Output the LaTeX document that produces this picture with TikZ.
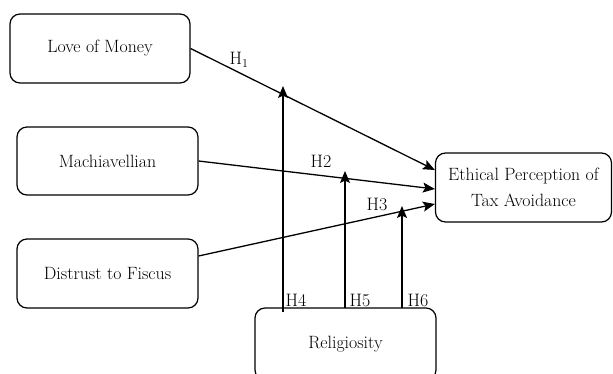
\documentclass[tikz,border=0pt]{standalone}
\usetikzlibrary{arrows.meta,calc}
\begin{document}
\begin{tikzpicture}[x=1pt,y=-1pt,
  box/.style={draw,line width=1.2pt,rounded corners=10pt,inner sep=0pt,align=center,
    font=\fontsize{17.8}{26}\selectfont},
  lbl/.style={font=\fontsize{18}{20}\selectfont,inner sep=0pt},
  arr/.style={line width=1.3pt,-{Stealth[length=12pt,width=10pt,inset=2.5pt]}}]
\useasboundingbox (0,0) rectangle (613,374);
\clip (0,0) rectangle (613,374);
\node[box,minimum width=180pt,minimum height=69pt] (lom) at (100,48.5) {Love of Money};
\node[box,minimum width=181pt,minimum height=68pt] (mac) at (107.5,161) {Machiavellian};
\node[box,minimum width=181pt,minimum height=69pt] (dis) at (107.5,273.5) {Distrust to Fiscus};
\node[box,minimum width=176pt,minimum height=69pt] (eth) at (523.5,187.5) {Ethical Perception of\\Tax Avoidance};
\node[box,minimum width=181pt,minimum height=72pt] (rel) at (345.5,344) {Religiosity};
% main paths
\draw[arr] (lom.east) -- ($(eth.west)+(0,-17.5)$);
\draw[arr] (mac.east) -- ($(eth.west)+(0,1.5)$);
\draw[arr] ($(dis.east)+(0,-17.5)$) -- ($(eth.west)+(0,16.5)$);
% moderation
\coordinate (s4) at (283,312);
\coordinate (t4) at (283,86);
\coordinate (s5) at (345,308);
\coordinate (t5) at (345,171);
\coordinate (s6) at (402,308);
\coordinate (t6) at (402,206);
\draw[arr] (s4) -- (t4);
\draw[arr] (s5) -- (t5);
\draw[arr] (s6) -- (t6);
% labels
\node[lbl] (h1) at (239,60) {H$_1$};
\node[lbl] (h2) at (321,161) {H2};
\node[lbl] (h3) at (377,204) {H3};
\node[lbl] (h4) at (296,300) {H4};
\node[lbl] (h5) at (360,300) {H5};
\node[lbl] (h6) at (418,300) {H6};
\end{tikzpicture}
\end{document}
